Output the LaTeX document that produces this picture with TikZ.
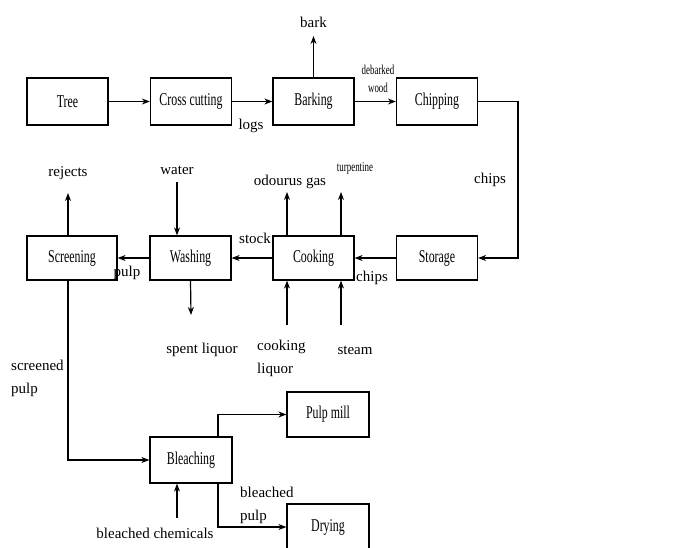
\documentclass[tikz,border=0pt]{standalone}
\usepackage{fontspec}
\setmainfont{Liberation Serif}
\newfontfamily\boxfont[FakeStretch=0.66]{Liberation Serif}
\usetikzlibrary{arrows.meta}
\begin{document}
\begin{tikzpicture}[x=1pt, y=-1pt,
   box/.style={draw, line width=1.2pt, minimum width=81pt, minimum height=45pt, inner sep=0pt, font=\boxfont\fontsize{18}{20}\selectfont},
   lbl/.style={inner sep=0pt, font=\fontsize{15}{23}\selectfont},
   small/.style={inner sep=0pt, font=\boxfont\fontsize{13.5}{18}\selectfont},
   flow/.style={line width=1.2pt, -{Stealth[length=8pt, width=6pt]}}]
   \useasboundingbox (0,0) rectangle (687,547);
   \clip (0,0) rectangle (687,547);
   % top row
   \node[box, minimum height=47pt] (tree) at (67.5,101.5) {Tree};
   \node[box, minimum height=47pt] (cross) at (191,101.5) {Cross cutting};
   \node[box, minimum height=47pt] (bark) at (313.5,101.5) {Barking};
   \node[box, minimum height=47pt] (chip) at (437,101.5) {Chipping};
   % middle row
   \node[box, minimum width=90pt, minimum height=44pt] (scr) at (72,258) {Screening};
   \node[box, minimum height=44pt] (wash) at (190.5,258) {Washing};
   \node[box, minimum height=44pt] (cook) at (313.5,258) {Cooking};
   \node[box, minimum height=44pt] (stor) at (437,258) {Storage};
   % bottom
   \node[box, minimum width=82pt, minimum height=46pt] (bleach) at (191,460) {Bleaching};
   \node[box, minimum width=82pt] (mill) at (328,414.5) {Pulp mill};
   \node[box, minimum width=82pt, minimum height=46pt] (dry) at (328,527) {Drying};
   % free ends
   \coordinate (barkout) at (313.5,36);
   \coordinate (turn) at (518,101.5);
   \coordinate (rejout) at (68,193);
   \coordinate (waterin) at (177,182);
   \coordinate (gasout) at (287,192);
   \coordinate (turpout) at (341,192);
   \coordinate (spentout) at (191,315);
   \coordinate (liqin) at (287,325);
   \coordinate (steamin) at (341,325);
   \coordinate (scrdown) at (68,460);
   \coordinate (chemin) at (177,518);
   % labels
   \node[lbl] (barklbl) at (313.5,22) {bark};
   \node[small, align=center] (debark) at (378,79) {debarked\\wood};
   \node[lbl] (logs) at (251,126) {logs};
   \node[lbl] (chips1) at (490,180) {chips};
   \node[lbl] (rej) at (68,173) {rejects};
   \node[lbl] (water) at (177,170) {water};
   \node[lbl] (gas) at (290,182) {odourus gas};
   \node[small] (turp) at (355,168) {turpentine};
   \node[lbl] (stock) at (255,238) {stock};
   \node[lbl] (pulp1) at (127,273) {pulp};
   \node[lbl] (chips2) at (372,278) {chips};
   \node[lbl] (spent) at (202,350) {spent liquor};
   \node[lbl, align=left, anchor=west] (liq) at (257,358) {cooking\\liquor};
   \node[lbl] (steam) at (355,350) {steam};
   \node[lbl, align=left, anchor=west] (scrpulp) at (11,378) {screened\\pulp};
   \node[lbl, align=left, anchor=west] (blpulp) at (240,505) {bleached\\pulp};
   \node[lbl] (chem) at (155,533) {bleached chemicals};
   % connectors
   \draw[flow] (tree) -- (cross);
   \draw[flow] (cross) -- (bark);
   \draw[flow] (bark.north) -- (barkout);
   \draw[flow] (bark) -- (chip);
   \draw[flow] (chip.east) -- (turn) |- (stor.east);
   \draw[flow] (stor) -- (cook);
   \draw[flow] (cook) -- (wash);
   \draw[flow] (wash) -- (scr);
   \draw[flow] (rejout |- scr.north) -- (rejout);
   \draw[flow] (waterin) -- (waterin |- wash.north);
   \draw[flow] (gasout |- cook.north) -- (gasout);
   \draw[flow] (turpout |- cook.north) -- (turpout);
   \draw[flow] (wash.south) -- (spentout);
   \draw[flow] (liqin) -- (liqin |- cook.south);
   \draw[flow] (steamin) -- (steamin |- cook.south);
   \draw[flow] (scrdown |- scr.south) -- (scrdown) -- (bleach.west);
   \draw[flow] ([xshift=27pt]bleach.north) |- (mill.west);
   \draw[flow] ([xshift=27pt]bleach.south) |- (dry.west);
   \draw[flow] (chemin) -- (chemin |- bleach.south);
\end{tikzpicture}
\end{document}
